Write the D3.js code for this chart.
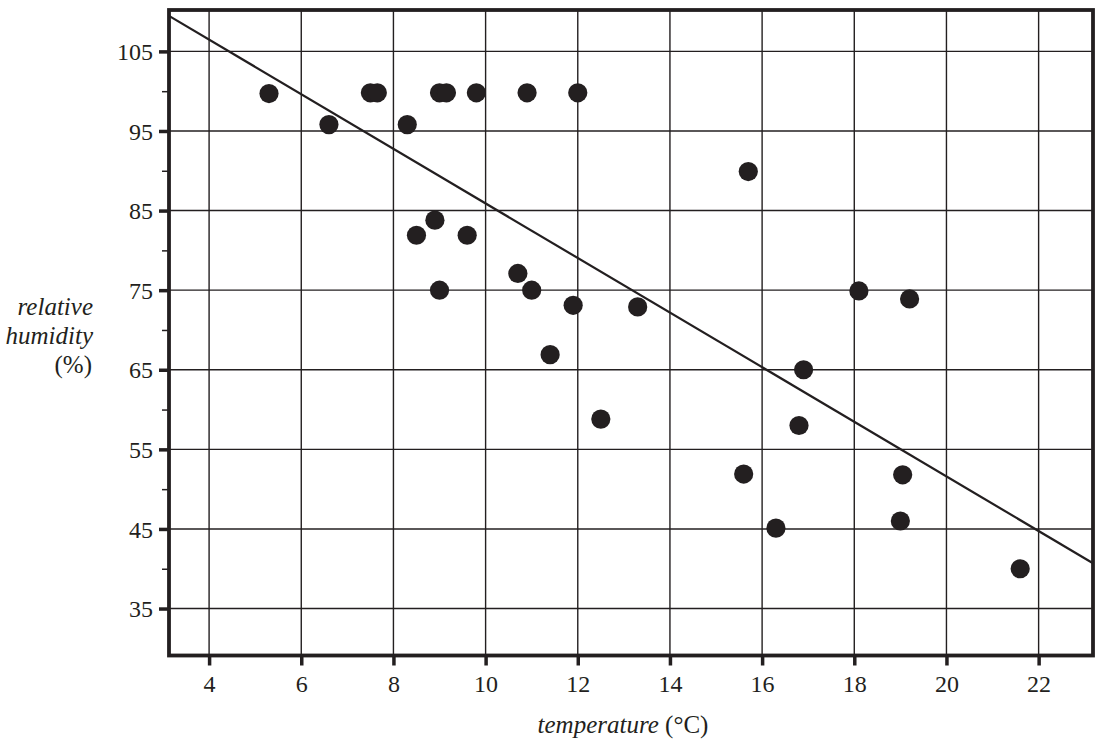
<!DOCTYPE html>
<html>
<head>
<meta charset="utf-8">
<script src="https://cdn.jsdelivr.net/npm/d3@7"></script>
<style>
  body { margin: 0; background: #fff; }
</style>
</head>
<body>
<svg id="chart" width="1101" height="741"></svg>
<script>
// temperature (°C) and relative humidity (%) readings
const temperature = [5.3, 6.6, 7.5, 7.65, 8.3, 9.0, 9.15, 9.8, 10.9, 12.0,
                     8.9, 8.5, 9.6, 9.0, 10.7, 11.0, 11.9, 13.3, 11.4, 12.5,
                     15.7, 18.1, 19.2, 16.9, 16.8, 15.6, 19.05, 16.3, 19.0, 21.6];
const humidity    = [99.7, 95.8, 99.8, 99.8, 95.8, 99.8, 99.8, 99.8, 99.8, 99.8,
                     83.8, 81.9, 81.9, 75.0, 77.1, 75.0, 73.1, 72.9, 66.9, 58.8,
                     89.9, 74.9, 73.9, 65.0, 58.0, 51.9, 51.8, 45.1, 46.0, 40.0];

const xTicks = [4, 6, 8, 10, 12, 14, 16, 18, 20, 22];
const yTicks = [35, 45, 55, 65, 75, 85, 95, 105];
const yMinorTicks = [40, 50, 60, 70, 80, 90, 100];

// line of best fit: humidity = intercept + slope * temperature
const fitSlope = -3.43;
const fitIntercept = 120.2;

const ink = "#231f20";
const serif = "'Liberation Serif', 'Times New Roman', Tinos";
const svg = d3.select("#chart");

const plotLeft = 169, plotRight = 1093, plotTop = 10, plotBottom = 655.5;
const xDomain = [3.13, 23.18];
const x = d3.scaleLinear().domain(xDomain).range([plotLeft, plotRight]);
const y = d3.scaleLinear().domain([29.1, 110.2]).range([plotBottom, plotTop]);

// grid
const grid = svg.append("g").attr("stroke", ink).attr("stroke-width", 1.4);
grid.selectAll("line.v").data(xTicks).enter().append("line")
  .attr("class", "v")
  .attr("x1", d => x(d)).attr("x2", d => x(d))
  .attr("y1", plotTop).attr("y2", plotBottom);
grid.selectAll("line.h").data(yTicks).enter().append("line")
  .attr("class", "h")
  .attr("x1", plotLeft).attr("x2", plotRight)
  .attr("y1", d => y(d)).attr("y2", d => y(d));

// axes ticks
const xAxis = svg.append("g")
  .attr("transform", "translate(0," + plotBottom + ")")
  .call(d3.axisBottom(x).tickValues(xTicks).tickSize(10).tickPadding(9).tickSizeOuter(0));
const yAxis = svg.append("g")
  .attr("transform", "translate(" + plotLeft + ",0)")
  .call(d3.axisLeft(y).tickValues(yTicks).tickSize(10).tickPadding(6).tickSizeOuter(0));
const yMinor = svg.append("g")
  .attr("transform", "translate(" + plotLeft + ",0)")
  .call(d3.axisLeft(y).tickValues(yMinorTicks).tickSize(7).tickFormat("").tickSizeOuter(0));

[xAxis, yAxis, yMinor].forEach(g => {
  g.attr("font-family", null).attr("font-size", null);
  g.select(".domain").remove();
  g.selectAll("text").attr("fill", ink)
    .style("font-size", "24px")
    .style("font-family", serif);
});
xAxis.selectAll("line").attr("stroke", ink).attr("stroke-width", 3.5);
yAxis.selectAll("line").attr("stroke", ink).attr("stroke-width", 3.5);
yMinor.selectAll("line").attr("stroke", ink).attr("stroke-width", 1.5);
yAxis.selectAll("text").attr("dy", "0.34em");

// frame
svg.append("rect")
  .attr("x", plotLeft).attr("y", plotTop)
  .attr("width", plotRight - plotLeft).attr("height", plotBottom - plotTop)
  .attr("fill", "none").attr("stroke", ink).attr("stroke-width", 3.8);

// best fit line
const fit = d3.line().x(d => x(d)).y(d => y(fitIntercept + fitSlope * d));
svg.append("path")
  .attr("d", fit(xDomain))
  .attr("fill", "none").attr("stroke", ink).attr("stroke-width", 2.2);

// points
svg.append("g").selectAll("circle")
  .data(temperature.map((t, i) => [t, humidity[i]]))
  .enter().append("circle")
  .attr("cx", d => x(d[0]))
  .attr("cy", d => y(d[1]))
  .attr("r", 9.6)
  .attr("fill", ink);

// axis titles
const xTitle = svg.append("text")
  .attr("x", 623).attr("y", 733)
  .attr("text-anchor", "middle").attr("fill", ink)
  .style("font-size", "25px").style("font-family", serif);
xTitle.append("tspan").style("font-style", "italic").text("temperature");
xTitle.append("tspan").text(" (°C)");

const yTitle = svg.append("text")
  .attr("text-anchor", "end").attr("fill", ink)
  .style("font-size", "25px").style("font-family", serif);
yTitle.append("tspan").attr("x", 93).attr("y", 315).style("font-style", "italic").text("relative");
yTitle.append("tspan").attr("x", 93).attr("y", 344).style("font-style", "italic").text("humidity");
yTitle.append("tspan").attr("x", 92).attr("y", 373).text("(%)");
</script>
</body>
</html>
